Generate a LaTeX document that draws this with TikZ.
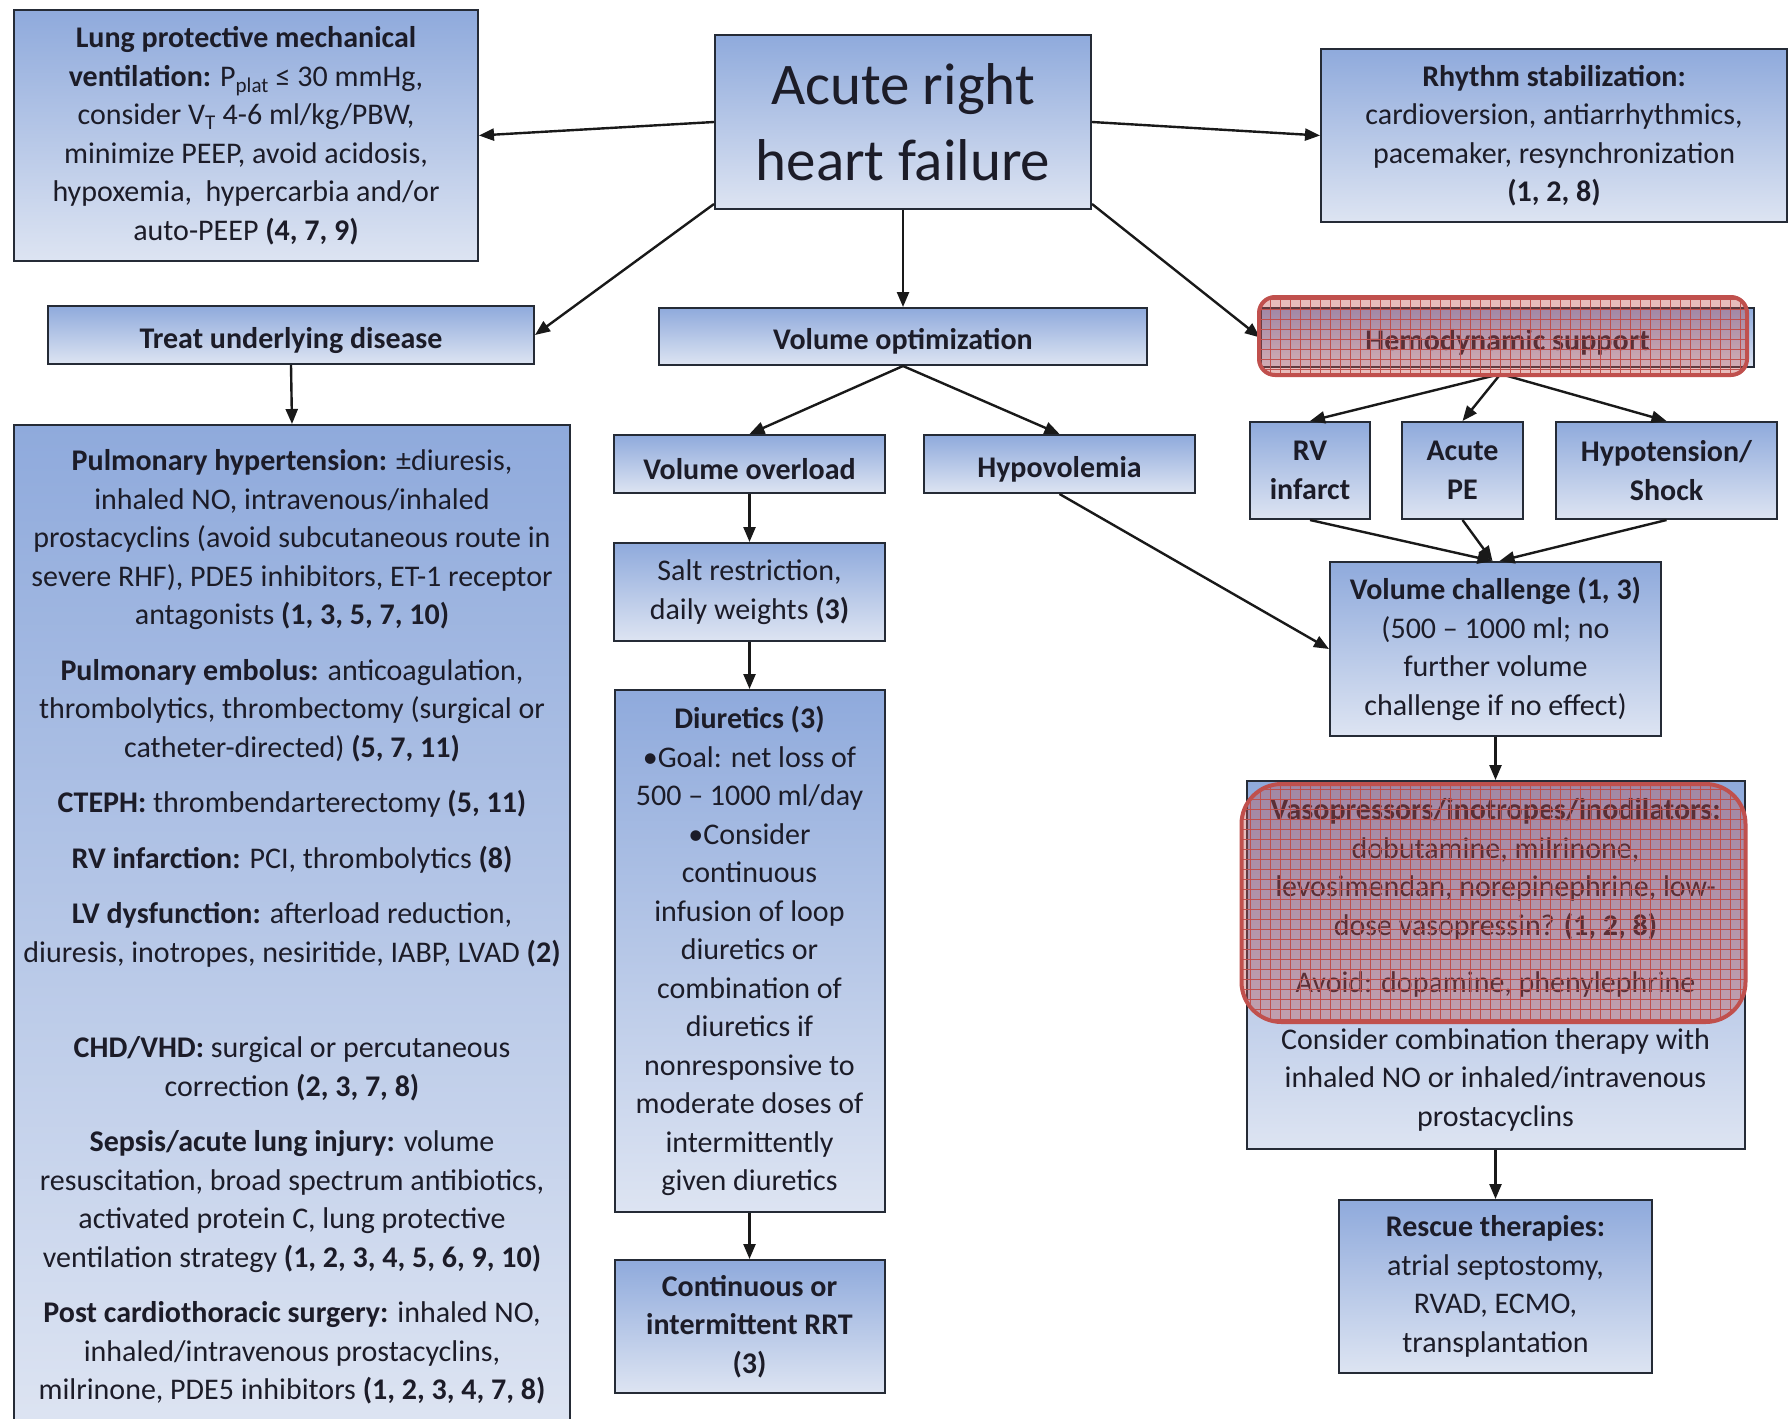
\documentclass[tikz,border=0pt]{standalone}
\usepackage{fontspec}
\setmainfont{Carlito}
\usepackage{tikz}
\usetikzlibrary{arrows.meta, positioning, patterns.meta}

\definecolor{boxtop}{HTML}{8FAADC}
\definecolor{boxbot}{HTML}{DDE4F2}
\definecolor{boxline}{HTML}{252B36}
\definecolor{txt}{HTML}{1C1C28}
\definecolor{hired}{HTML}{C0504D}

\begin{document}
\begin{tikzpicture}[x=1pt, y=-1pt,
        base/.style={
            draw=boxline, line width=2pt, align=center, inner sep=0pt,
            top color=boxtop, bottom color=boxbot, text=txt,
            font=\fontsize{30}{38.5}\selectfont,
            execute at begin node=\rule{0pt}{1.05em}
        },
        bar/.style={base, font=\fontsize{30}{38.5}\selectfont\bfseries, minimum height=58pt},
        hilite/.style={
            draw=hired, line width=4pt, fill=hired, fill opacity=0.38,
            postaction={pattern={Hatch[angle=0, distance=10pt, line width=0.9pt]},
                pattern color=hired, fill opacity=0.45}
        },
        arrow/.style={line width=2.4pt, draw=black!90, -{Triangle[length=15pt, width=12pt]}}
    ]
        \useasboundingbox[fill=white] (0,0) rectangle (1789,1419);

        % Boxes
        \node[base, minimum width=376pt, minimum height=174pt, font=\fontsize{59}{76}\selectfont] (arhf) at (903,122) {Acute right\\heart failure};

        \node[base, minimum width=464pt, minimum height=251pt] (lung) at (246,135.5) {\textbf{Lung protective mechanical}\\ \textbf{ventilation:} P\textsubscript{plat} ≤ 30 mmHg,\\ consider V\textsubscript{T} 4-6 ml/kg/PBW,\\ minimize PEEP, avoid acidosis,\\ hypoxemia,\ \ hypercarbia and/or\\ auto-PEEP \textbf{(4, 7, 9)}};

        \node[base, minimum width=466pt, minimum height=173pt] (rhythm) at (1554,135.5) {\textbf{Rhythm stabilization:}\\ cardioversion, antiarrhythmics,\\ pacemaker, resynchronization\\ \textbf{(1, 2, 8)}};

        \node[bar, minimum width=486pt] (treat) at (291,335) {Treat underlying disease};
        \node[bar, minimum width=488pt, minimum height=57pt] (volopt) at (903,336.5) {Volume optimization};
        \node[bar, minimum width=493pt, minimum height=59pt] (hemo) at (1507.5,337.5) {Hemodynamic support};

        \node[base, minimum width=556pt, minimum height=1004pt] (disease) at (292,927) {\textbf{Pulmonary hypertension:} ±diuresis,\\ inhaled NO, intravenous/inhaled\\ prostacyclins (avoid subcutaneous route in\\ severe RHF), PDE5 inhibitors, ET-1 receptor\\ antagonists \textbf{(1, 3, 5, 7, 10)}\\[17pt]
            \textbf{Pulmonary embolus:} anticoagulation,\\ thrombolytics, thrombectomy (surgical or\\ catheter-directed) \textbf{(5, 7, 11)}\\[17pt]
            \textbf{CTEPH:} thrombendarterectomy \textbf{(5, 11)}\\[17pt]
            \textbf{RV infarction:} PCI, thrombolytics \textbf{(8)}\\[17pt]
            \textbf{LV dysfunction:} afterload reduction,\\ diuresis, inotropes, nesiritide, IABP, LVAD \textbf{(2)}\\[57pt]
            \textbf{CHD/VHD:} surgical or percutaneous\\ correction \textbf{(2, 3, 7, 8)}\\[17pt]
            \textbf{Sepsis/acute lung injury:} volume\\ resuscitation, broad spectrum antibiotics,\\ activated protein C, lung protective\\ ventilation strategy \textbf{(1, 2, 3, 4, 5, 6, 9, 10)}\\[17pt]
            \textbf{Post cardiothoracic surgery:} inhaled NO,\\ inhaled/intravenous prostacyclins,\\ milrinone, PDE5 inhibitors \textbf{(1, 2, 3, 4, 7, 8)}};

        \node[bar, minimum width=271pt] (overload) at (749.5,464) {Volume overload};
        \node[bar, minimum width=271pt] (hypovol) at (1059.5,464) {Hypovolemia};

        \node[base, minimum width=271pt, minimum height=98pt, below=48pt of overload] (salt) {Salt restriction,\\ daily weights \textbf{(3)}};
        \node[base, minimum width=270pt, minimum height=522pt, below=47pt of salt] (diuretics) {\textbf{Diuretics (3)}\\ •Goal: net loss of\\ 500 – 1000 ml/day\\ •Consider\\ continuous\\ infusion of loop\\ diuretics or\\ combination of\\ diuretics if\\ nonresponsive to\\ moderate doses of\\ intermittently\\ given diuretics};
        \node[base, minimum width=270pt, minimum height=133pt, below=46pt of diuretics, font=\fontsize{30}{38.5}\selectfont\bfseries] (rrt) {Continuous or\\ intermittent RRT\\ (3)};

        \node[base, minimum width=120pt, minimum height=97pt, font=\fontsize{30}{38.5}\selectfont\bfseries] (rvinf) at (1310,470.5) {RV\\ infarct};
        \node[base, minimum width=121pt, minimum height=97pt, font=\fontsize{30}{38.5}\selectfont\bfseries] (ape) at (1462.5,470.5) {Acute\\ PE};
        \node[base, minimum width=221pt, minimum height=97pt, font=\fontsize{30}{38.5}\selectfont\bfseries] (shock) at (1666.5,470.5) {Hypotension/\\ Shock};

        \node[base, minimum width=331pt, minimum height=174pt] (volchal) at (1495.5,649) {\textbf{Volume challenge (1, 3)}\\ (500 – 1000 ml; no\\ further volume\\ challenge if no effect)};
        \node[base, minimum width=498pt, minimum height=368pt, below=43pt of volchal] (vaso) {\textbf{Vasopressors/inotropes/inodilators:}\\ dobutamine, milrinone,\\ levosimendan, norepinephrine, low-\\ dose vasopressin? \textbf{(1, 2, 8)}\\[19pt] Avoid: dopamine, phenylephrine\\[18pt] Consider combination therapy with\\ inhaled NO or inhaled/intravenous\\ prostacyclins};
        \node[base, minimum width=313pt, minimum height=173pt, below=49pt of vaso] (rescue) {\textbf{Rescue therapies:}\\ atrial septostomy,\\ RVAD, ECMO,\\ transplantation};

        % Arrows
        \draw[arrow] (arhf.west) -- (lung.east);
        \draw[arrow] (arhf.east) -- (rhythm.west);
        \draw[arrow] ([yshift=6pt]arhf.south west) -- (treat.east);
        \draw[arrow] (arhf.south) -- (volopt.north);
        \draw[arrow] ([yshift=6pt]arhf.south east) -- (hemo.west);
        \draw[arrow] (treat.south) -- (disease.north);
        \draw[arrow] (volopt.south) -- (overload.north);
        \draw[arrow] (volopt.south) -- (hypovol.north);
        \draw[arrow] (overload.south) -- (salt.north);
        \draw[arrow] (salt.south) -- (diuretics.north);
        \draw[arrow] (diuretics.south) -- (rrt.north);
        \draw[arrow] (hypovol.south) -- (volchal.west);
        \draw[arrow] ([xshift=-7pt,yshift=-6pt]hemo.south) -- (rvinf.north);
        \draw[arrow] ([xshift=-7pt,yshift=-6pt]hemo.south) -- (ape.north);
        \draw[arrow] ([xshift=-7pt,yshift=-6pt]hemo.south) -- (shock.north);
        \draw[arrow] (rvinf.south) -- ([xshift=-3pt]volchal.north);
        \draw[arrow] (ape.south) -- ([xshift=-3pt]volchal.north);
        \draw[arrow] (shock.south) -- ([xshift=4pt]volchal.north);
        \draw[arrow] (volchal.south) -- (vaso.north);
        \draw[arrow] (vaso.south) -- (rescue.north);

        % Highlights
        \draw[hilite, rounded corners=16pt] ([xshift=-1pt,yshift=10pt]hemo.north west) rectangle ([xshift=-8pt,yshift=-7pt]hemo.south east);
        \draw[hilite, rounded corners=40pt] ([xshift=-4pt,yshift=-4pt]vaso.north west) rectangle ([yshift=-242pt]vaso.north east);

    \end{tikzpicture}
\end{document}
